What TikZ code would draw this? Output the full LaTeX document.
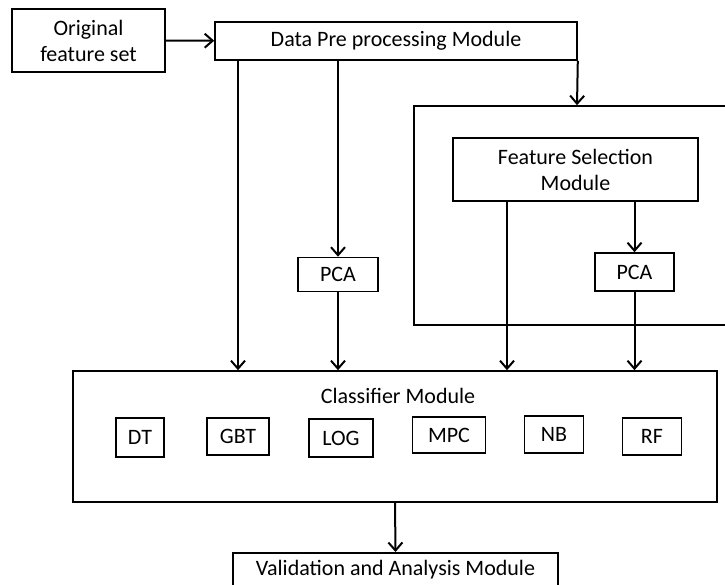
\documentclass[tikz,border=0pt]{standalone}
\usepackage{fontspec}
\setmainfont{Carlito}
\usetikzlibrary{arrows.meta}
\begin{document}
\begin{tikzpicture}[x=1pt,y=-1pt,
  box/.style={draw=black,line width=1.6pt,rectangle,inner sep=0pt,align=center,font=\fontsize{22}{26}\selectfont},
  lbl/.style={font=\fontsize{22}{26}\selectfont},
  arr/.style={line width=2pt,-{Straight Barb[length=8pt,width=14pt,line width=2pt]}}]
\useasboundingbox (0,0) rectangle (725,585);
\clip (0,0) rectangle (725,585);
\node[box,minimum width=153pt,minimum height=63pt] (orig) at (88.5,40.5) {Original\\feature set};
\node[box,minimum width=362pt,minimum height=38pt] (dpp) at (396,41) {Data Pre processing Module};
\node[box,minimum width=326pt,minimum height=219pt] (outer) at (577,215.5) {};
\node[box,minimum width=245pt,minimum height=63pt] (fs) at (575.5,169.5) {Feature Selection\\Module};
\node[box,minimum width=79pt,minimum height=38pt] (pcab) at (634.5,272) {PCA};
\node[box,minimum width=80pt,minimum height=34pt] (pcaa) at (338,274.5) {PCA};
\node[box,minimum width=644pt,minimum height=131pt] (cls) at (395,436.5) {};
\node[lbl] (clst) at (398,396) {Classifier Module};
\node[box,minimum width=48pt,minimum height=39pt] (dt) at (140,437.5) {DT};
\node[box,minimum width=62pt,minimum height=37pt] (gbt) at (238,436.5) {GBT};
\node[box,minimum width=64pt,minimum height=38pt] (log) at (341,438) {LOG};
\node[box,minimum width=73pt,minimum height=36pt] (mpc) at (449,435) {MPC};
\node[box,minimum width=59pt,minimum height=37pt] (nb) at (554,434.5) {NB};
\node[box,minimum width=59pt,minimum height=37pt] (rf) at (652,436.5) {RF};
\node[box,minimum width=325pt,minimum height=50pt,anchor=north] (val) at (395.5,552) {};
\node[lbl] (valt) at (395.5,570) {Validation and Analysis Module};
\coordinate (c1) at (238,0);
\coordinate (c2) at (507,0);
\draw[arr] (orig) -- (dpp);
\draw[arr] (dpp.south -| c1) -- (cls.north -| c1);
\draw[arr] (dpp.south -| pcaa) -- (pcaa.north);
\draw[arr] (pcaa.south) -- (cls.north -| pcaa);
\draw[arr] (dpp.south east) -- (outer.north);
\draw[arr] (fs.south -| c2) -- (cls.north -| c2);
\draw[arr] (fs.south -| pcab) -- (pcab.north);
\draw[arr] (pcab.south) -- (cls.north -| pcab);
\draw[arr] (cls.south) -- (val.north);
\end{tikzpicture}
\end{document}
